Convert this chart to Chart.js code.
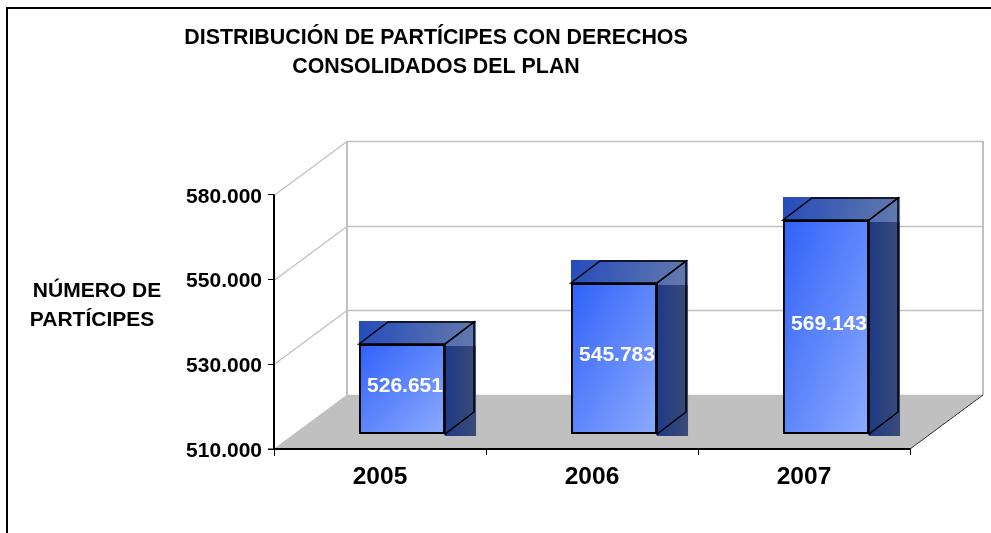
<!DOCTYPE html>
<html lang="es">
<head>
<meta charset="utf-8">
<title>Distribución de partícipes</title>
<script src="https://cdn.jsdelivr.net/npm/chart.js@4"></script>
<style>
  body { margin: 0; background: #fff; }
  canvas { display: block; }
</style>
</head>
<body>
<canvas id="chart" width="991" height="533"></canvas>
<script>
const years = ['2005', '2006', '2007'];
const participants = [526651, 545783, 569143];
const yTickLabels = ['580.000', '550.000', '530.000', '510.000'];
const titleLines = ['DISTRIBUCIÓN DE PARTÍCIPES CON DERECHOS', 'CONSOLIDADOS DEL PLAN'];
const yAxisTitle = ['NÚMERO DE', 'PARTÍCIPES'];

// the printed axis is not linear, so the bars get their own hidden scale
const barAxisValues = [510000, 526651, 545783, 569143, 580000];
const barAxisFractions = [0, 0.3543, 0.5945, 0.8425, 1];

const FONT = '"Liberation Sans", Arial, sans-serif';
const WALL_DX = 73, WALL_DY = -54;   // side wall depth
const BAR_DX = 22, BAR_DY = -15;     // bars stand in the middle of the floor
const BOX_DX = 29, BOX_DY = -22;     // depth of each bar

class KnotScale extends Chart.LinearScale {
    static id = 'knot';
    static defaults = Chart.LinearScale.defaults;

    getPixelForValue(value) {
        const k = barAxisValues, f = barAxisFractions;
        let i = 0;
        while (i < k.length - 2 && value > k[i + 1]) i++;
        const t = (value - k[i]) / (k[i + 1] - k[i]);
        return this.getPixelForDecimal(f[i] + t * (f[i + 1] - f[i]));
    }
}
Chart.register(KnotScale);

function formatThousands(v) {
    return String(v).replace(/\B(?=(\d{3})+$)/g, '.');
}

function line(ctx, x1, y1, x2, y2) {
    ctx.beginPath();
    ctx.moveTo(x1, y1);
    ctx.lineTo(x2, y2);
    ctx.stroke();
}

function poly(ctx, pts, stroke) {
    ctx.beginPath();
    pts.forEach((p, i) => i ? ctx.lineTo(p[0], p[1]) : ctx.moveTo(p[0], p[1]));
    ctx.closePath();
    if (stroke) ctx.stroke(); else ctx.fill();
}

// corner to corner gradient, whatever the height of the bar
function frontFill(c) {
    const area = c.chart.chartArea;
    if (!area || c.dataIndex === undefined) return '#3a6af8';
    const cx = c.chart.scales.x.getPixelForValue(c.dataIndex);
    const top = c.chart.scales.yBars.getPixelForValue(c.raw);
    const w = c.chart.scales.x.width / years.length * 0.406;
    const h = area.bottom - top;
    const n = w * h / (w * w + h * h);
    const cy = top + h / 2;
    const g = c.chart.ctx.createLinearGradient(cx - h * n, cy - w * n, cx + h * n, cy + w * n);
    g.addColorStop(0, '#2f61f8');
    g.addColorStop(1, '#8dabff');
    return g;
}

const scenery = {
    id: 'scenery',
    beforeDraw(chart) {
        const { ctx, chartArea: a, scales } = chart;
        ctx.save();
        ctx.fillStyle = '#fff';
        ctx.fillRect(0, 0, chart.width, chart.height);

        // frame of the picture
        ctx.strokeStyle = '#000';
        ctx.lineWidth = 2;
        line(ctx, 7, chart.height, 7, 8);
        line(ctx, 6, 8, chart.width, 8);

        // floor
        ctx.fillStyle = '#c0c0c0';
        poly(ctx, [[a.left, a.bottom], [a.right, a.bottom],
                   [a.right + WALL_DX, a.bottom + WALL_DY], [a.left + WALL_DX, a.bottom + WALL_DY]]);

        // walls and grid
        ctx.strokeStyle = '#c0c0c0';
        ctx.lineWidth = 1.3;
        yTickLabels.forEach((label, i) => {
            const y = Math.round(scales.y.getPixelForTick(i)) + 0.5;
            line(ctx, a.left, y, a.left + WALL_DX, y + WALL_DY);
            line(ctx, a.left + WALL_DX, y + WALL_DY, a.right + WALL_DX, y + WALL_DY);
        });
        ctx.lineWidth = 2;
        line(ctx, a.left + WALL_DX, a.top + WALL_DY, a.left + WALL_DX, a.bottom + WALL_DY);
        line(ctx, a.right + WALL_DX, a.top + WALL_DY, a.right + WALL_DX, a.bottom + WALL_DY);

        ctx.strokeStyle = '#333';
        ctx.lineWidth = 1;
        line(ctx, a.right, a.bottom, a.right + WALL_DX, a.bottom + WALL_DY);
        ctx.restore();
    },
    beforeDatasetsDraw(chart) {
        const { ctx } = chart;
        ctx.save();
        ctx.translate(BAR_DX, BAR_DY);
        chart.getDatasetMeta(0).data.forEach(bar => {
            const l = bar.x - bar.width / 2, r = bar.x + bar.width / 2;
            const t = bar.y, b = bar.base;

            // side
            let g = ctx.createLinearGradient(r, 0, r + BOX_DX + 2, 0);
            g.addColorStop(0, '#1e3a86');
            g.addColorStop(1, '#3b4a76');
            ctx.fillStyle = g;
            ctx.fillRect(r, t, BOX_DX + 2, b - t + 2);

            // top
            g = ctx.createLinearGradient(l, t + BOX_DY, r + BOX_DX, t);
            g.addColorStop(0, '#254cbb');
            g.addColorStop(1, '#6379ac');
            ctx.fillStyle = g;
            ctx.fillRect(l, t + BOX_DY - 1, r - l + BOX_DX + 2, -BOX_DY + 3);

            ctx.strokeStyle = '#000';
            ctx.lineWidth = 1.5;
            poly(ctx, [[l, t], [l + BOX_DX, t + BOX_DY], [r + BOX_DX, t + BOX_DY], [r, t]], true);
            poly(ctx, [[r, t], [r + BOX_DX, t + BOX_DY], [r + BOX_DX, b + BOX_DY], [r, b]], true);
        });
    },
    afterDatasetsDraw(chart) {
        const { ctx } = chart;
        ctx.font = 'bold 21px ' + FONT;
        ctx.fillStyle = '#fff';
        ctx.textAlign = 'center';
        ctx.textBaseline = 'middle';
        chart.getDatasetMeta(0).data.forEach((bar, i) => {
            ctx.fillText(formatThousands(participants[i]), bar.x + 3, (bar.y + bar.base) / 2 - 3);
        });
        ctx.restore();
    },
    afterDraw(chart) {
        const { ctx, chartArea: a } = chart;
        ctx.save();
        // axis lines sit over the floor
        ctx.strokeStyle = '#000';
        ctx.lineWidth = 1;
        line(ctx, a.left + 0.5, a.top, a.left + 0.5, a.bottom + 7);
        ctx.lineWidth = 1.5;
        line(ctx, a.left - 6, a.bottom + 0.25, a.right, a.bottom + 0.25);

        ctx.font = 'bold 21px ' + FONT;
        ctx.fillStyle = '#000';
        ctx.textAlign = 'center';
        ctx.textBaseline = 'middle';
        ctx.fillText(yAxisTitle[0], 97, 291);
        ctx.fillText(yAxisTitle[1], 92, 320);
        ctx.restore();
    },
    afterLayout(chart) {
        // title is centred on the plot's left part, not on the canvas
        chart.titleBlock.left = 0;
        chart.titleBlock.right = 872;
    }
};

new Chart(document.getElementById('chart'), {
    type: 'bar',
    data: {
        labels: years,
        datasets: [{
            data: participants,
            yAxisID: 'yBars',
            base: barAxisValues[0],
            clip: false,
            backgroundColor: frontFill,
            borderColor: '#000',
            borderWidth: 2,
            borderSkipped: false,
            categoryPercentage: 1,
            barPercentage: 0.406
        }]
    },
    options: {
        responsive: false,
        animation: false,
        layout: { autoPadding: false, padding: { right: 81 } },
        plugins: {
            legend: { display: false },
            tooltip: { enabled: false },
            title: {
                display: true,
                text: titleLines,
                color: '#000',
                font: { family: FONT, size: 21.4, weight: 'bold', lineHeight: 1.355 },
                padding: { top: 23.5, bottom: 113.5 }
            }
        },
        scales: {
            x: {
                afterFit: s => { s.height = 84; },
                border: { color: '#000', width: 1.5 },
                grid: { drawOnChartArea: false, tickLength: 6, color: '#000' },
                ticks: { color: '#000', padding: 8, maxRotation: 0, font: { family: FONT, size: 24.5, weight: 'bold' } }
            },
            y: {
                type: 'category',
                labels: yTickLabels,
                afterFit: s => { s.width = 274; },
                border: { color: '#000', width: 1.5 },
                grid: { drawOnChartArea: false, tickLength: 6, color: '#000' },
                ticks: { color: '#000', padding: 6, autoSkip: false, labelOffset: 2, font: { family: FONT, size: 21, weight: 'bold' } }
            },
            yBars: {
                type: 'knot',
                display: false,
                min: barAxisValues[0],
                max: barAxisValues[barAxisValues.length - 1]
            }
        }
    },
    plugins: [scenery]
});
</script>
</body>
</html>
